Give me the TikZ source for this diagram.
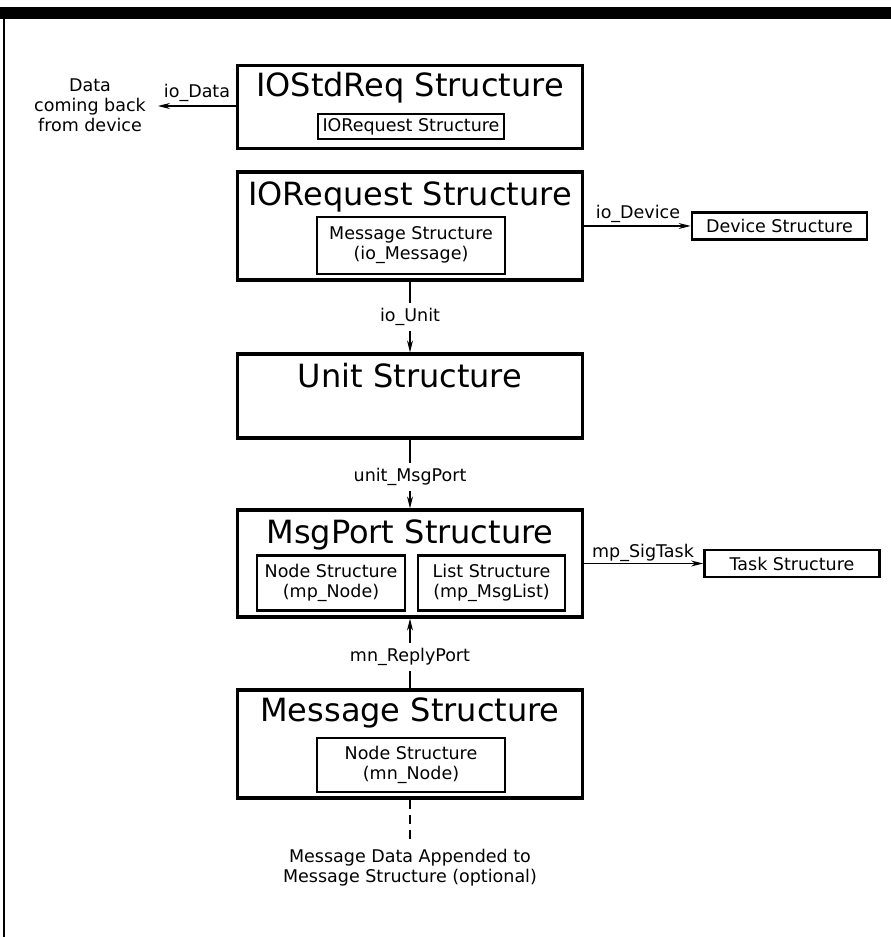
\documentclass[tikz,border=0pt]{standalone}
\usepackage{fontspec}
\setmainfont{DejaVu Sans}
\usetikzlibrary{arrows.meta}

\newlength{\du}
\setlength{\du}{1pt}

\tikzset{
  bigbox/.style={draw, line width=3.2\du, minimum width=345\du, inner sep=0pt},
  subbox/.style={draw, line width=2.8\du, inner sep=0pt, align=center,
    font=\fontsize{17.5}{20}\selectfont},
  boxtitle/.style={inner sep=0pt, font=\fontsize{32}{36}\selectfont},
  lbl/.style={inner sep=5\du, align=center, font=\fontsize{17.5}{20}\selectfont},
  link/.style={line width=1.2\du},
  ptr/.style={link, -{Stealth[length=12pt,width=6pt]}},
}

\begin{document}
\begin{tikzpicture}
\pgftransformxscale{1.000000}
\pgftransformyscale{-1.000000}
\useasboundingbox (0\du,0\du) rectangle (891\du,937\du);
% frame
\fill (0\du,7\du) rectangle (891\du,19\du);
\draw[line width=1.5\du] (4\du,19\du)--(4\du,937\du);
% IOStdReq
\node[bigbox, minimum height=83\du] (stdreq) at (410\du,107\du) {};
\node[boxtitle] (stdreqT) at (410\du,88\du) {IOStdReq Structure};
\node[subbox, minimum width=186\du, minimum height=25\du] (stdreqIn) at (411\du,126.5\du) {IORequest Structure};
\node[lbl] (data) at (90\du,105\du) {Data\\coming back\\from device};
\node[lbl] (ioData) at (197\du,93\du) {io\_Data};
\draw[ptr, shorten >=7pt] (stdreq.west |- 0,106\du)--(data.east |- 0,106\du);
% IORequest
\node[bigbox, minimum height=108\du] (iorq) at (410\du,226\du) {};
\node[boxtitle] (iorqT) at (410\du,197\du) {IORequest Structure};
\node[subbox, minimum width=188\du, minimum height=57\du] (iorqIn) at (411\du,245.5\du) {Message Structure\\(io\_Message)};
\node[subbox, minimum width=175\du, minimum height=27\du] (device) at (779.5\du,226\du) {Device Structure};
\node[lbl] (ioDevice) at (638\du,214\du) {io\_Device};
\draw[ptr] (iorq.east)--(device.west);
% io_Unit
\node[lbl] (ioUnit) at (410\du,317\du) {io\_Unit};
\draw[link] (iorq.south)--(ioUnit);
% Unit
\node[bigbox, minimum height=84\du] (unit) at (410\du,396\du) {};
\node[boxtitle] (unitT) at (410\du,376\du) {Unit Structure};
\draw[ptr] (ioUnit)--(unit.north);
% unit_MsgPort
\node[lbl] (unitPort) at (410\du,477\du) {unit\_MsgPort};
\draw[link] (unit.south)--(unitPort);
% MsgPort
\node[bigbox, minimum height=107\du] (msgport) at (410\du,563.5\du) {};
\node[boxtitle] (msgportT) at (410\du,535\du) {MsgPort Structure};
\node[subbox, minimum width=148\du, minimum height=55\du] (mpNode) at (331\du,583\du) {Node Structure\\(mp\_Node)};
\node[subbox, minimum width=147\du, minimum height=55\du] (mpList) at (491.5\du,583\du) {List Structure\\(mp\_MsgList)};
\draw[ptr] (unitPort)--(msgport.north);
\node[subbox, minimum width=175\du, minimum height=27\du] (task) at (792\du,563.5\du) {Task Structure};
\node[lbl] (sigTask) at (643\du,553\du) {mp\_SigTask};
\draw[ptr] (msgport.east)--(task.west);
% mn_ReplyPort
\node[lbl] (replyPort) at (410\du,657\du) {mn\_ReplyPort};
\draw[ptr] (replyPort)--(msgport.south);
% Message
\node[bigbox, minimum height=108\du] (message) at (410\du,744\du) {};
\node[boxtitle] (messageT) at (410\du,713\du) {Message Structure};
\node[subbox, minimum width=188\du, minimum height=54\du] (mnNode) at (411\du,765\du) {Node Structure\\(mn\_Node)};
\draw[link] (message.north)--(replyPort);
% appended data
\coordinate (dataEnd) at (410\du,843\du);
\node[lbl] (appended) at (410\du,868\du) {Message Data Appended to\\Message Structure (optional)};
\draw[link, dash pattern=on 9\du off 6\du] (message.south)--(dataEnd);
\end{tikzpicture}
\end{document}
